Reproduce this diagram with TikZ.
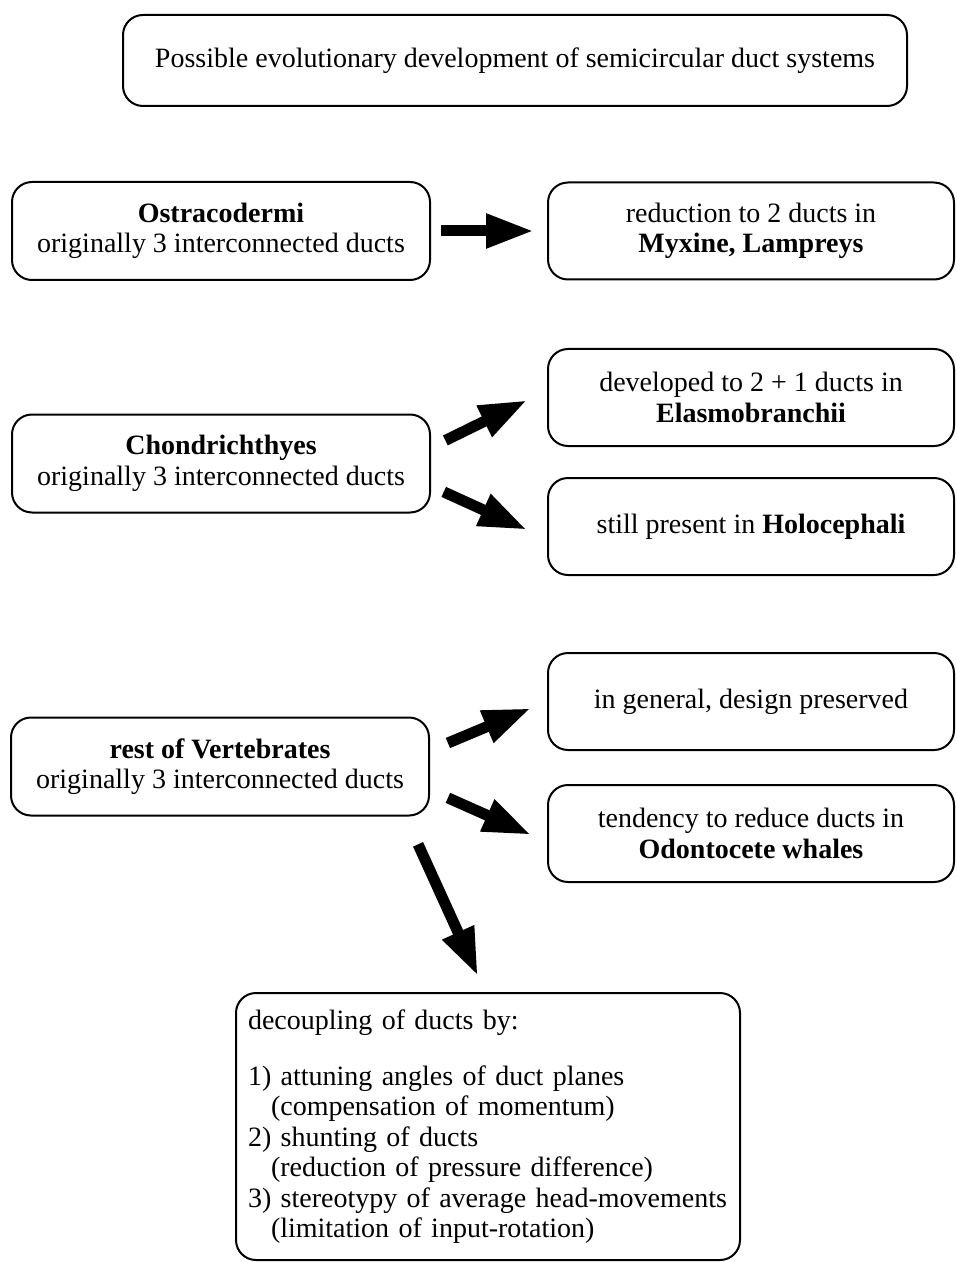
\documentclass[tikz,border=0pt]{standalone}
\usepackage{fontspec}
\setmainfont{Liberation Serif}
\usepackage{tikz}
\usetikzlibrary{arrows.meta, positioning}
\tikzset{
    titlebox/.style={draw, rectangle, rounded corners=10pt, align=center, line width=1pt, minimum width=392pt, minimum height=45.5pt, font=\fontsize{14}{15.2}\selectfont},
    groupbox/.style={draw, rectangle, rounded corners=10pt, align=center, line width=1pt, minimum width=209pt, minimum height=49pt, font=\fontsize{14}{15.2}\selectfont},
    resultbox/.style={draw, rectangle, rounded corners=10pt, align=center, line width=1pt, minimum width=203pt, minimum height=48.5pt, font=\fontsize{14}{15.2}\selectfont},
    notebox/.style={draw, rectangle, rounded corners=10pt, align=left, line width=1pt, text width=240pt, inner xsep=6pt, minimum height=133.5pt, font=\fontsize{14}{15.2}\selectfont},
    bigarrow/.style={-{Triangle[length=24pt,width=16pt]}, line width=5.5pt, draw=black}
}

\begin{document}
\begin{tikzpicture}[x=0.5pt, y=-0.5pt]
        \useasboundingbox (0,0) rectangle (957,1262);

        % -----------------------------------------------------------------
        % TITLE
        % -----------------------------------------------------------------
        \node[titlebox] (title) at (515, 60.5) {Possible evolutionary development of semicircular duct systems};

        % -----------------------------------------------------------------
        % OSTRACODERMI
        % -----------------------------------------------------------------
        \node[groupbox] (ostra) at (221, 231) {\textbf{Ostracodermi}\\originally 3 interconnected ducts};
        \node[resultbox] (myxine) at (751, 231) {reduction to 2 ducts in\\\textbf{Myxine, Lampreys}};
        \draw[bigarrow, shorten <=5pt, shorten >=6.5pt] (ostra.east) -- (myxine.west);

        % -----------------------------------------------------------------
        % CHONDRICHTHYES
        % -----------------------------------------------------------------
        \node[groupbox] (chond) at (221, 463.5) {\textbf{Chondrichthyes}\\originally 3 interconnected ducts};
        \node[resultbox] (elasmo) at (751, 397.5) {developed to 2 + 1 ducts in\\\textbf{Elasmobranchii}};
        \node[resultbox] (holo) at (751, 526.5) {still present in \textbf{Holocephali}};
        \draw[bigarrow, shorten <=8pt, shorten >=11pt] ([yshift=8pt]chond.east) -- ([yshift=3.5pt]elasmo.west);
        \draw[bigarrow, shorten <=7pt, shorten >=11pt] ([yshift=-11.3pt]chond.east) -- ([yshift=-6.2pt]holo.west);

        % -----------------------------------------------------------------
        % REST OF VERTEBRATES
        % -----------------------------------------------------------------
        \node[groupbox] (vert) at (220, 766.5) {\textbf{rest of Vertebrates}\\originally 3 interconnected ducts};
        \node[resultbox] (general) at (751, 701.5) {in general, design preserved};
        \node[resultbox] (odonto) at (751, 833.5) {tendency to reduce ducts in\\\textbf{Odontocete whales}};
        \node[notebox] (decoup) at (488, 1126.5) {decoupling of ducts by:\\[13pt]
            1) attuning angles of duct planes\\
            \hspace*{11.5pt}(compensation of momentum)\\
            2) shunting of ducts\\
            \hspace*{11.5pt}(reduction of pressure difference)\\
            3) stereotypy of average head-movements\\
            \hspace*{11.5pt}(limitation of input-rotation)};
        \draw[bigarrow, shorten <=9.7pt, shorten >=8.7pt] ([yshift=8pt]vert.east) -- (general.west);
        \draw[bigarrow, shorten <=9.8pt, shorten >=8.7pt] ([yshift=-11.7pt]vert.east) -- ([yshift=-4.2pt]odonto.west);
        \draw[bigarrow, shorten <=15.3pt, shorten >=8.8pt] ([xshift=92.7pt]vert.south) -- ([xshift=-1.4pt]decoup.north);

    \end{tikzpicture}
\end{document}
